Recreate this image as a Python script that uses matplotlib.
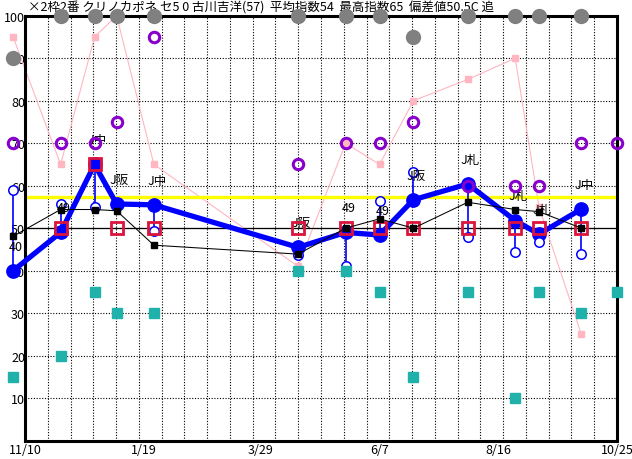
import matplotlib
matplotlib.use("Agg")
import matplotlib.pyplot as plt
import numpy as np
import pandas as pd

plt.rcParams['font.family'] = ['Noto Sans CJK JP', 'DejaVu Sans']

title = "×2枠2番 クリノカポネ セ5 0 古川吉洋(57)  平均指数54  最高指数65  偏差値50.5C 追"

# race dates (last one = next race)
race_dates = ["2018-11-03", "2018-12-01", "2018-12-21", "2019-01-03", "2019-01-25",
              "2019-04-20", "2019-05-18", "2019-06-07", "2019-06-27", "2019-07-29",
              "2019-08-26", "2019-09-09", "2019-10-04", "2019-10-25"]
nan = np.nan
index_main = [40, 49, 65, 55.7, 55.5, 45.5, 49, 48.4, 56.7, 60.4, 51.8, 48.6, 54.5, nan]
index_sub = [59, 55.7, 54.9, nan, 49.4, 43.7, 41.2, 56.5, 63.2, 47.9, 44.5, 46.7, 43.9, nan]
race_level = [nan, 50, 65, 50, 50, 50, 50, 50, 50, 50, 50, 50, 50, nan]
avg_index = [48.1, 54.4, 54.4, 54.1, 46, 43.9, 50, 52.2, 50, 56.1, 54.4, 53.9, 50, nan]
pink_vals = [95, 65, 95, 100, 65, 41, 70, 65, 80, 85, 90, 55, 25, nan]
purple_vals = [70, 70, 70, 75, 95, 65, 70, 70, 75, 60, 60, 60, 70, 70]
teal_vals = [15, 20, 35, 30, 30, 40, 40, 35, 15, 35, 10, 35, 30, 35]
gray_vals = [90, 100, 100, 100, 100, 100, 100, 100, 95, 100, 100, 100, 100, nan]
point_labels = ["40", "49", "J中", "J阪", "J中", "J阪", "49", "49", "J阪", "J札", "J札", "J札", "J中", ""]

deviation_line = 57.3
base_line = 50

tick_dates = ["2018-11-10", "2019-01-19", "2019-03-29", "2019-06-07", "2019-08-16", "2019-10-25"]
tick_labels = ["11/10", "1/19", "3/29", "6/7", "8/16", "10/25"]

start = pd.Timestamp("2018-11-10")
x = np.array([(pd.Timestamp(d) - start).days for d in race_dates], dtype=float)
xt = [(pd.Timestamp(d) - start).days for d in tick_dates]
x0, x1 = 0, xt[-1]

fig = plt.figure(figsize=(6.32, 4.6), dpi=100)
ax = fig.add_axes([25 / 632, 18.3 / 460, 592 / 632, 425 / 460])
ax.set_xlim(x0, x1)
ax.set_ylim(0, 100)

# dotted grid
for gx in np.linspace(x0, x1, 27)[1:-1]:
    ax.axvline(gx, color='black', lw=0.8, ls=(0, (1, 1.5)), zorder=1)
for gy in range(10, 100, 10):
    ax.axhline(gy, color='black', lw=0.8, ls=(0, (1, 1.5)), zorder=1)

ax.plot(x, pink_vals, color='#ffb6c1', lw=0.8, marker='s', ms=4.3, mec='#ffb6c1',
        mfc='#ffb6c1', zorder=2, clip_on=False)
ax.axhline(deviation_line, color='#ffff00', lw=2.4, zorder=3)
ax.axhline(base_line, color='black', lw=0.9, zorder=3)

ax.plot(x, index_main, color='#0000ff', lw=3.8, marker='o', ms=9.6, zorder=4, clip_on=False)

for xi, m, s in zip(x, index_main, index_sub):
    if not np.isnan(m) and not np.isnan(s):
        ax.plot([xi, xi], [m, s], color='#0000ff', lw=1.2, zorder=4.5, clip_on=False)
ax.plot(x, index_sub, ls='none', marker='o', ms=6.8, mfc='white', mec='#0000ff',
        mew=1.1, zorder=5, clip_on=False)

for xi, m, lab in zip(x, index_main, point_labels):
    if lab and not np.isnan(m):
        ax.annotate(lab, (xi, m), xytext=(2, 13), textcoords='offset points',
                    ha='center', va='bottom', fontsize=9, zorder=5.5, annotation_clip=False)

ax.plot(x, race_level, ls='none', marker='s', ms=8, mfc='none', mec='#dc143c',
        mew=2.0, zorder=6, clip_on=False)
ax.plot(x, avg_index, color='black', lw=0.75, marker='s', ms=3.8, zorder=7, clip_on=False)
ax.plot(x, purple_vals, ls='none', marker='o', ms=7.5, mfc='none', mec='#8800cc',
        mew=2.2, zorder=8, clip_on=False)
ax.plot(x, teal_vals, ls='none', marker='s', ms=6.5, mfc='#20b2aa', mec='#20b2aa',
        zorder=9, clip_on=False)
ax.plot(x, gray_vals, ls='none', marker='o', ms=10, mfc='#808080', mec='#808080',
        zorder=10, clip_on=False)

for sp in ax.spines.values():
    sp.set_linewidth(2.2)
    sp.set_zorder(3.5)

ax.set_yticks(range(10, 101, 10))
ax.set_yticklabels([str(v) for v in range(10, 101, 10)], fontsize=9)
ax.set_xticks(xt)
ax.set_xticklabels(tick_labels, fontsize=9)
ax.tick_params(length=0, pad=2)
ax.tick_params(axis='y', pad=0)

ax.text(3 / 592, 1.0 + 9 / 425, title, transform=ax.transAxes, fontsize=9,
        ha='left', va='center', zorder=0.5, clip_on=False)

fig.savefig("out.png", dpi=100)
